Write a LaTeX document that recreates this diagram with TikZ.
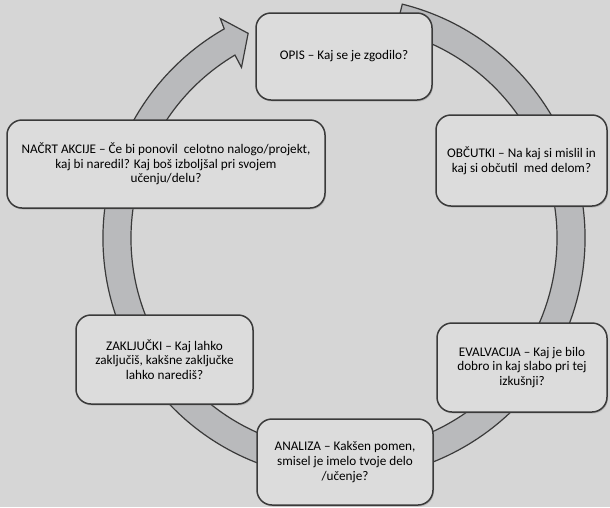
\documentclass[tikz,border=0pt]{standalone}
\usepackage{fontspec}
\setmainfont{Carlito}
\usetikzlibrary{shadows}
\definecolor{bgc}{HTML}{D6D6D6}
\definecolor{boxc}{HTML}{DCDCDC}
\definecolor{ringc}{HTML}{B9BABC}
\definecolor{edgec}{HTML}{3A3A3A}
\tikzset{
  box/.style={draw=edgec, line width=1.5pt, fill=boxc, rounded corners=15pt,
    align=center, inner sep=2pt, font=\fontsize{13.2}{14.6}\selectfont,
    drop shadow={shadow xshift=1pt, shadow yshift=-1.5pt, opacity=0.35}},
  ring/.style={draw=edgec, line width=1.2pt, fill=ringc, line join=miter}
}
\begin{document}
\begin{tikzpicture}[x=1pt,y=-1pt]
\fill[bgc] (0,0) rectangle (610,507);
\useasboundingbox (0,0) rectangle (610,507);
\begin{scope}[shift={(344,238)}]
\draw[ring] (-76:241) arc[start angle=-76, end angle=240.2, radius=241]
  -- (240.6:252) -- (244.9:226) -- (239:199) -- (239.2:213)
  arc[start angle=239.2, end angle=-76, radius=213] -- cycle;
\end{scope}
\node[box, minimum width=176pt, minimum height=87pt] (opis) at (344,56.5)
  {OPIS – Kaj se je zgodilo?};
\node[box, minimum width=318pt, minimum height=88pt] (nacrt) at (166,164)
  {NAČRT AKCIJE – Če bi ponovil\ \ celotno nalogo/projekt,\\ kaj bi naredil? Kaj boš izboljšal pri svojem\\ učenju/delu?};
\node[box, minimum width=171pt, minimum height=91pt] (obcutki) at (521.5,160.5)
  {OBČUTKI – Na kaj si mislil in\\ kaj si občutil\ \ med delom?};
\node[box, minimum width=170pt, minimum height=89pt] (evalvacija) at (522,367.5)
  {EVALVACIJA – Kaj je bilo\\ dobro in kaj slabo pri tej\\ izkušnji?};
\node[box, minimum width=177pt, minimum height=89pt] (zakljucki) at (164.5,359.5)
  {ZAKLJUČKI – Kaj lahko\\ zaključiš, kakšne zaključke\\ lahko narediš?};
\node[box, minimum width=176pt, minimum height=86pt] (analiza) at (345,462)
  {ANALIZA – Kakšen pomen,\\ smisel je imelo tvoje delo\\ /učenje?};
\end{tikzpicture}
\end{document}
